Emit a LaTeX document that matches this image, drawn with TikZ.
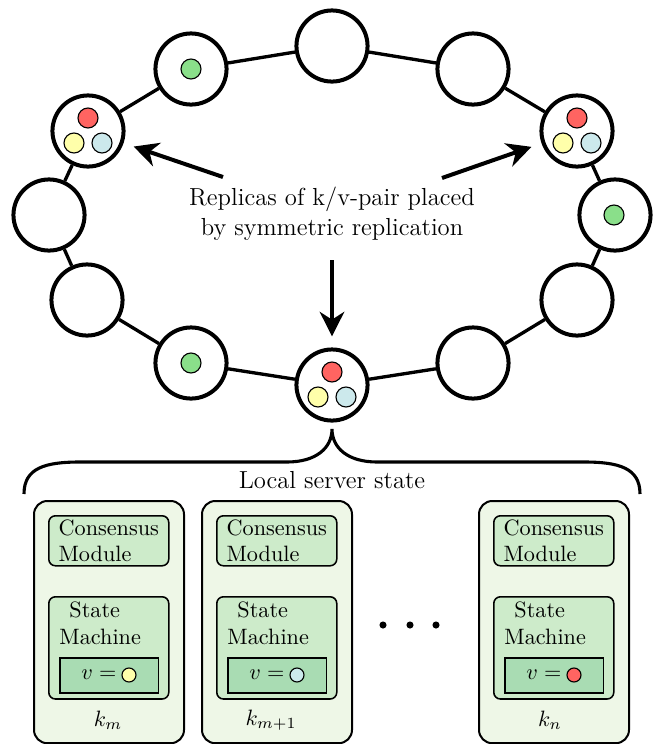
\documentclass[tikz,border=0pt]{standalone}
\usetikzlibrary{arrows.meta}
\definecolor{outerfill}{HTML}{EEF7E7}
\definecolor{innerfill}{HTML}{CDEBCA}
\definecolor{valfill}{HTML}{A9DCB3}
\definecolor{dotred}{HTML}{FF6461}
\definecolor{dotyellow}{HTML}{FFFFAA}
\definecolor{dotblue}{HTML}{CCE9EC}
\definecolor{dotgreen}{HTML}{8ADF8A}
\begin{document}
\begin{tikzpicture}[x=0.45pt,y=-0.45pt,
  ring/.style={circle, draw, line width=1.8pt, fill=white, minimum size=32pt, inner sep=0pt},
  link/.style={line width=1.5pt},
  kvdot/.style={circle, draw, line width=0.5pt, minimum size=9pt, inner sep=0pt},
  smalldot/.style={circle, draw, line width=0.5pt, minimum size=6.3pt, inner sep=0pt},
  ellipsisdot/.style={circle, fill=black, minimum size=3.2pt, inner sep=0pt},
  bigarrow/.style={line width=1.8pt, -{Stealth[length=11pt,width=11pt,inset=3.5pt]}},
  server/.style={draw, line width=0.9pt, rounded corners=6pt, fill=outerfill, minimum width=67.5pt, minimum height=109pt, anchor=north west, inner sep=0pt},
  module/.style={draw, line width=0.7pt, rounded corners=3pt, fill=innerfill, minimum width=54pt, anchor=north west, inner sep=0pt},
  valbox/.style={draw, line width=0.7pt, fill=valfill, minimum width=44.5pt, minimum height=15.75pt, anchor=north west, inner sep=0pt},
  label/.style={inner sep=0pt},
  caption/.style={inner sep=0pt, font=\fontsize{11.1pt}{13.3pt}\selectfont}
]
\useasboundingbox (0,0) rectangle (657,744);

% ring nodes
\node[ring] (n0) at (332,46) {};
\node[ring] (n1) at (473,69) {};
\node[ring] (n2) at (577,131) {};
\node[ring] (n3) at (615,215) {};
\node[ring] (n4) at (577,300) {};
\node[ring] (n5) at (473,363) {};
\node[ring] (n6) at (332,385) {};
\node[ring] (n7) at (191,363) {};
\node[ring] (n8) at (87,300) {};
\node[ring] (n9) at (49,215) {};
\node[ring] (n10) at (88,131) {};
\node[ring] (n11) at (191,69) {};
\foreach \a/\b in {n0/n1,n1/n2,n2/n3,n3/n4,n4/n5,n5/n6,n6/n7,n7/n8,n8/n9,n9/n10,n10/n11,n11/n0}
  \draw[link] (\a) -- (\b);

% replicas
\node[kvdot, fill=dotred] (n10r) at (88,118) {};
\node[kvdot, fill=dotyellow] (n10y) at (74,143) {};
\node[kvdot, fill=dotblue] (n10b) at (102,143) {};
\node[kvdot, fill=dotred] (n2r) at (577,118) {};
\node[kvdot, fill=dotyellow] (n2y) at (563,143) {};
\node[kvdot, fill=dotblue] (n2b) at (591,143) {};
\node[kvdot, fill=dotred] (n6r) at (332,372) {};
\node[kvdot, fill=dotyellow] (n6y) at (318,397) {};
\node[kvdot, fill=dotblue] (n6b) at (346,397) {};
\node[kvdot, fill=dotgreen] (n11g) at (191,69) {};
\node[kvdot, fill=dotgreen] (n3g) at (614,215) {};
\node[kvdot, fill=dotgreen] (n7g) at (191,363) {};

% caption and arrows
\node[caption, align=center] (cap) at (332,214) {Replicas of k/v-pair placed\\by symmetric replication};
\coordinate (a1) at (223,177);
\coordinate (a2) at (442,178);
\coordinate (a3) at (332,260);
\draw[bigarrow, shorten >=4.8pt] (a1) -- (n10);
\draw[bigarrow, shorten >=4.8pt] (a2) -- (n2);
\draw[bigarrow, shorten >=5pt] (a3) -- (n6);

% brace
\coordinate (bl) at (24,494);
\coordinate (bt) at (332,429);
\coordinate (br) at (640,494);
\draw[line width=1.4pt] (bl) .. controls (24,468) and (45,462) .. (80,462) -- (287,462)
  .. controls (316,462) and (332,448) .. (bt)
  .. controls (332,448) and (348,462) .. (377,462) -- (584,462)
  .. controls (619,462) and (640,468) .. (br);
\node[caption] (lss) at (332,480) {Local server state};

% servers
\foreach \i/\x/\col/\kx/\k in {1/33/dotyellow/108/{k_m}, 2/201/dotblue/271/{k_{m+1}}, 3/478/dotred/550/{k_n}} {
  \node[server] (s\i) at (\x,500) {};
  \node[module, minimum height=22.5pt] (c\i) at (\x+15,515) {};
  \node[label, align=left] (c\i t) at (c\i.center) {Consensus\\Module};
  \node[module, minimum height=46pt] (m\i) at (\x+15,596) {};
  \node[label, align=left, anchor=west] (m\i t) at (\x+26,623) {\hspace*{4.5pt}State\\Machine};
  \node[valbox] (v\i) at (\x+26,657) {};
  \node[label] (v\i t) at (\x+66,675) {$v =$};
  \node[smalldot, fill=\col] (v\i d) at (\x+96,675) {};
  \node[label] (k\i) at (\kx,720) {$\k$};
}
\node[ellipsisdot] (e1) at (383,625) {};
\node[ellipsisdot] (e2) at (410,625) {};
\node[ellipsisdot] (e3) at (436,625) {};
\end{tikzpicture}
\end{document}
